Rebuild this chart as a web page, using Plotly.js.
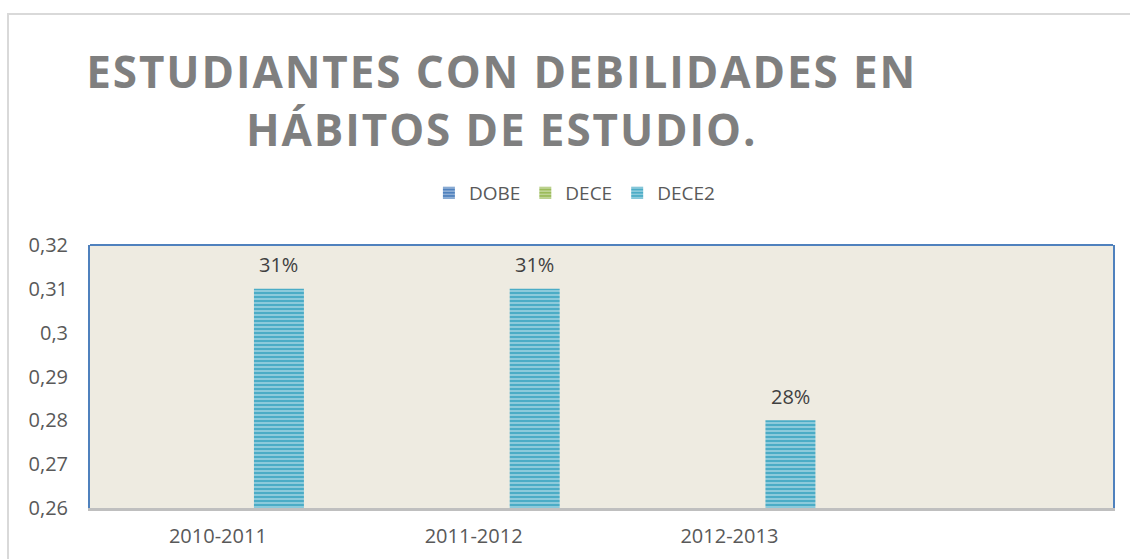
<!DOCTYPE html>
<html>
<head>
<meta charset="utf-8">
<script src="https://cdn.plot.ly/plotly-3.0.1.min.js"></script>
<style>
  html, body { margin: 0; padding: 0; background: #ffffff; }
  #wrap { position: relative; width: 1130px; height: 559px; }
  #chart { width: 1130px; height: 559px; }
  #frame { position: absolute; left: 7px; top: 13px; right: -10px; bottom: -10px;
           border-left: 2px solid #D9D9D9; border-top: 2px solid #D9D9D9; pointer-events: none; }
  .gtitle { letter-spacing: 1.9px; }
</style>
</head>
<body>
<div id="wrap">
  <div id="chart"></div>
  <div id="frame"></div>
</div>
<script>
// ---- data ----
const categories = ['2010-2011', '2011-2012', '2012-2013'];
const seriesNames = ['DOBE', 'DECE', 'DECE2'];
const dobeValues = [null, null, null];
const deceValues = [null, null, null];
const dece2Values = [0.31, 0.31, 0.28];
const yTickValues = [0.26, 0.27, 0.28, 0.29, 0.30, 0.31, 0.32];
const titleText = 'ESTUDIANTES CON DEBILIDADES EN<br>HÁBITOS DE ESTUDIO.';

const seriesColors = ['#4F81BD', '#9BBB59', '#4BACC6'];
const allValues = [dobeValues, deceValues, dece2Values];

const traces = seriesNames.map((name, i) => ({
  type: 'bar',
  name: name,
  x: categories,
  y: allValues[i],
  width: 0.1955,
  offset: 0.141,
  marker: {
    color: seriesColors[i],
    line: { width: 0 },
    pattern: { shape: '-', bgcolor: seriesColors[i], fgcolor: '#ffffff', fgopacity: 0.45, size: 4, solidity: 0.4 }
  },
  hoverinfo: 'skip'
}));

const annotations = [];
dece2Values.forEach((v, i) => {
  if (v !== null) {
    annotations.push({
      x: categories[i], y: v, xref: 'x', yref: 'y',
      xshift: 0.141 * 255.75 + 0.1955 * 255.75 / 2,
      yshift: 24,
      text: Math.round(v * 100) + '%',
      showarrow: false,
      font: { family: 'Open Sans', size: 20, color: '#404040' }
    });
  }
});

const layout = {
  width: 1130, height: 559,
  margin: { l: 90, r: 17, t: 245, b: 51 },
  paper_bgcolor: 'rgba(0,0,0,0)',
  plot_bgcolor: '#EEEBE1',
  separators: ',.',
  showlegend: true,
  title: {
    text: titleText,
    xref: 'container', yref: 'container',
    x: 0.444, xanchor: 'center',
    y: 0.842, yanchor: 'top',
    font: { family: 'Open Sans', size: 44, color: '#7F7F7F', weight: 'bold' }
  },
  legend: {
    orientation: 'h',
    x: 0.474, xanchor: 'center',
    y: 1.198, yanchor: 'middle',
    font: { family: 'Open Sans', size: 19, color: '#595959' },
    itemclick: false, itemdoubleclick: false,
    traceorder: 'normal'
  },
  xaxis: {
    type: 'category',
    range: [-0.5, 3.5],
    showgrid: false, zeroline: false,
    showline: true, linecolor: '#BFBFBF', linewidth: 3,
    ticks: '', ticklabelstandoff: 8,
    tickfont: { family: 'Open Sans', size: 20, color: '#595959' },
    fixedrange: true
  },
  yaxis: {
    range: [0.26, 0.32],
    tickvals: yTickValues,
    showgrid: false, zeroline: false,
    showline: true, linecolor: '#4F81BD', linewidth: 2, mirror: true,
    ticks: '', ticklabelstandoff: 16,
    tickfont: { family: 'Open Sans', size: 20, color: '#595959' },
    fixedrange: true
  },
  shapes: [
    { type: 'line', xref: 'paper', yref: 'paper', x0: 0, x1: 1, y0: 1, y1: 1,
      line: { color: '#4F81BD', width: 2 } }
  ],
  annotations: annotations
};

Plotly.newPlot('chart', traces, layout, { displayModeBar: false, staticPlot: true });
</script>
</body>
</html>
